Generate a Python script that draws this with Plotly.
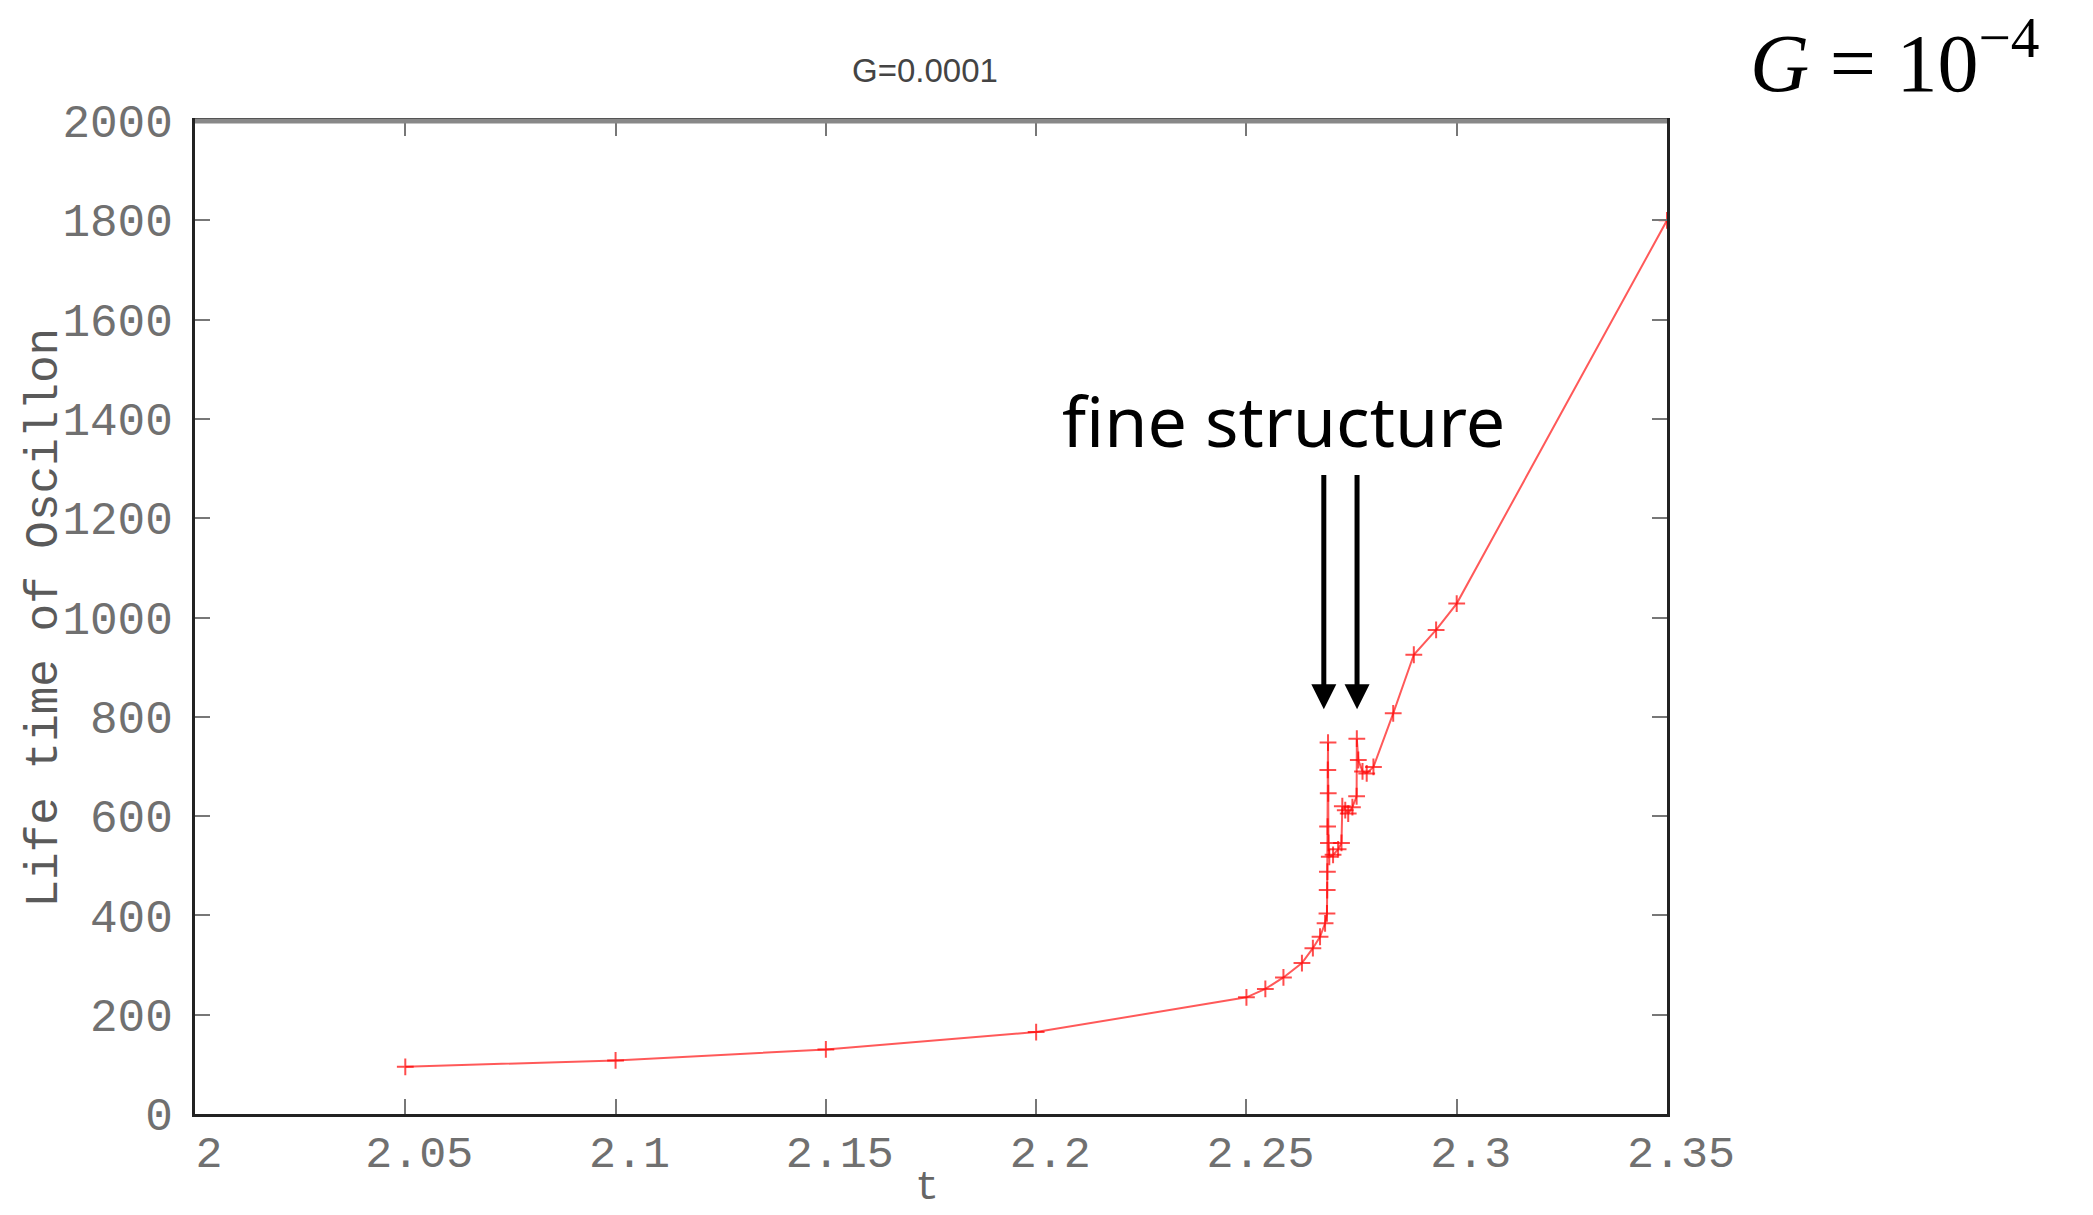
import plotly.graph_objects as go

# ---- data ----
t_vals = [2.05, 2.10, 2.15, 2.20, 2.25, 2.2545, 2.2588, 2.2632, 2.2658, 2.2675,
          2.2687, 2.26915, 2.2692, 2.26925, 2.2693, 2.26935, 2.2694, 2.26945,
          2.2695, 2.2697, 2.2706, 2.2718, 2.2726, 2.2728, 2.2735, 2.2742,
          2.2752, 2.2762, 2.27625, 2.2766, 2.2776, 2.2786, 2.2802, 2.2849,
          2.2898, 2.2951, 2.30, 2.35]
life_vals = [95, 108, 130, 165, 235, 252, 275, 304, 334, 357,
             384, 404, 451, 488, 579, 693, 748, 646,
             546, 518, 522, 533, 546, 620, 612, 605,
             618, 640, 756, 713, 690, 686, 699, 807,
             925, 975, 1028, 1800]

x_tickvals = [2.0, 2.05, 2.1, 2.15, 2.2, 2.25, 2.3, 2.35]
x_ticktext = ["2", "2.05", "2.1", "2.15", "2.2", "2.25", "2.3", "2.35"]
y_tickvals = [0, 200, 400, 600, 800, 1000, 1200, 1400, 1600, 1800, 2000]
y_ticktext = [str(v) for v in y_tickvals]

arrow_x = [2.2684, 2.2763]
arrow_tip_y = 815
arrow_tail_y = 1290

W, H = 2093, 1215
L, R, T, B = 195, 2093 - 1667, 121, 1215 - 1114

mono = "Liberation Mono"

fig = go.Figure()
fig.add_trace(go.Scatter(
    x=t_vals, y=life_vals, mode="lines+markers",
    line=dict(color="rgba(255,0,0,0.65)", width=2),
    marker=dict(symbol="cross-thin", size=12,
                line=dict(color="rgba(255,0,0,0.7)", width=2)),
    showlegend=False, hoverinfo="skip"))

fig.update_layout(
    width=W, height=H,
    margin=dict(l=L, r=R, t=T, b=B),
    paper_bgcolor="white", plot_bgcolor="white",
    showlegend=False,
)

fig.update_xaxes(
    range=[2.0, 2.35], tickvals=x_tickvals, ticktext=x_ticktext,
    showgrid=False, zeroline=False,
    showline=True, linecolor="#222", linewidth=3, mirror="ticks",
    ticks="inside", ticklen=15, tickwidth=2, tickcolor="#777",
    tickfont=dict(family=mono, size=45, color="#707070"),
    ticklabelstandoff=-4, ticklabelshift=14,
)
fig.update_yaxes(
    range=[0, 2000], tickvals=y_tickvals, ticktext=y_ticktext,
    showgrid=False, zeroline=False,
    showline=True, linecolor="#222", linewidth=3, mirror="ticks",
    ticks="inside", ticklen=15, tickwidth=2, tickcolor="#777",
    tickfont=dict(family=mono, size=46, color="#707070"),
    ticklabelstandoff=10,
)

# gray top border like the reference
fig.add_shape(type="line", xref="paper", yref="paper", x0=0, x1=1, y0=1, y1=1,
              line=dict(color="#888", width=5))

ann = []
# title
ann.append(dict(text="G=0.0001", xref="paper", yref="paper",
                x=(925 - L) / 1472, y=(1114 - 71) / 993,
                xanchor="center", yanchor="middle", showarrow=False,
                font=dict(family="Liberation Sans", size=33, color="#444")))
# axis titles
ann.append(dict(text="Life time of Oscillon", xref="paper", yref="paper",
                x=(44 - L) / 1472, y=0.5, textangle=-90,
                xanchor="center", yanchor="middle", showarrow=False,
                font=dict(family=mono, size=46, color="#5a5a5a")))
ann.append(dict(text="t", xref="paper", yref="paper",
                x=(927 - L) / 1472, y=(1114 - 1188) / 993,
                xanchor="center", yanchor="middle", showarrow=False,
                font=dict(family=mono, size=40, color="#666")))
# G = 10^-4 label
ann.append(dict(text="<i>G</i>&nbsp;=&nbsp;10<sup>−4</sup>", xref="paper", yref="paper",
                x=(1895 - L) / 1472, y=(1114 - 58) / 993,
                xanchor="center", yanchor="middle", showarrow=False,
                font=dict(family="Liberation Serif", size=82, color="black")))
# fine structure label
ann.append(dict(text="fine structure", x=2.2589, y=1398,
                xanchor="center", yanchor="middle", showarrow=False,
                font=dict(family="Noto Sans", size=70, color="black")))
# arrows
for ax_ in arrow_x:
    ann.append(dict(text="", x=ax_, y=arrow_tip_y, ax=ax_, ay=arrow_tail_y,
                    axref="x", ayref="y", showarrow=True,
                    arrowhead=2, arrowsize=1, arrowwidth=5, arrowcolor="black"))

fig.update_layout(annotations=ann)

fig.write_html("out.html")
